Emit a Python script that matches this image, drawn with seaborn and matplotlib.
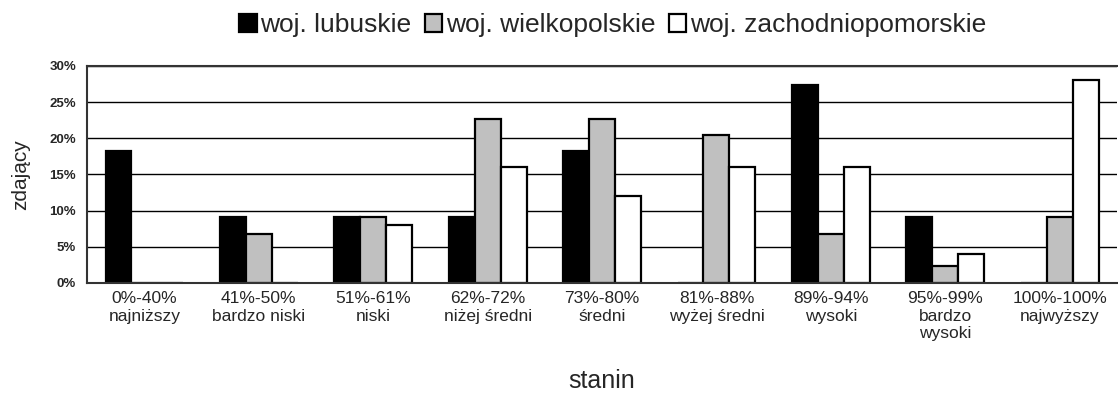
import matplotlib
matplotlib.use("Agg")
import matplotlib.pyplot as plt
import matplotlib.ticker as mticker
import seaborn as sns
import pandas as pd
import numpy as np

# kategorie staninowe
categories = ["0%-40%\nnajniższy", "41%-50%\nbardzo niski", "51%-61%\nniski",
              "62%-72%\nniżej średni", "73%-80%\nśredni", "81%-88%\nwyżej średni",
              "89%-94%\nwysoki", "95%-99%\nbardzo\nwysoki", "100%-100%\nnajwyższy"]
series = ["woj. lubuskie", "woj. wielkopolskie", "woj. zachodniopomorskie"]

lubuskie = [18.2, 9.1, 9.1, 9.1, 18.2, 0, 27.3, 9.1, 0]
wielkopolskie = [0, 6.8, 9.1, 22.7, 22.7, 20.5, 6.8, 2.3, 9.1]
zachodniopomorskie = [0, 0, 8.0, 16.0, 12.0, 16.0, 16.0, 4.0, 28.0]

colors = ["#000000", "#c0c0c0", "#ffffff"]

df = pd.DataFrame({
    "stanin": categories * 3,
    "woj": np.repeat(series, len(categories)),
    "value": lubuskie + wielkopolskie + zachodniopomorskie,
})

sns.set_style("white")
plt.rcParams['font.family'] = ['Liberation Sans', 'DejaVu Sans']

fig = plt.figure(figsize=(11.18, 4.07), dpi=100)
ax = fig.add_axes([0.078, 0.305, 0.921, 0.533])

sns.barplot(data=df, x="stanin", y="value", hue="woj", palette=colors,
            width=0.68, edgecolor="black", linewidth=1.6, ax=ax, legend=True)

ax.set_ylim(0, 30)
ax.set_xlim(-0.5, len(categories) - 0.5)
ax.yaxis.set_major_locator(mticker.MultipleLocator(5))
ax.yaxis.set_major_formatter(mticker.FuncFormatter(lambda v, p: f"{v:.0f}%"))
ax.grid(axis="y", color="black", linewidth=1.0)
ax.set_axisbelow(True)
for lbl in ax.get_yticklabels():
    lbl.set_fontweight("bold")
    lbl.set_fontsize(9.5)
ax.tick_params(axis="y", length=0, pad=8)

ax.tick_params(axis="x", which="major", length=0, labelsize=12.5, pad=6)
ax.set_xticks(np.arange(-0.5, len(categories), 1), minor=True)
ax.tick_params(axis="x", which="minor", length=4, width=1, color="#444444", direction="out")

for s in ["left", "bottom", "top"]:
    ax.spines[s].set_visible(True)
    ax.spines[s].set_color("#333333")
    ax.spines[s].set_linewidth(1.5)
ax.spines["right"].set_visible(False)

ax.set_xlabel("stanin", fontsize=18, labelpad=20)
ax.set_ylabel("zdający", fontsize=15, labelpad=14)

handles, labels = ax.get_legend_handles_labels()
ax.get_legend().remove()
fig.legend(handles, labels, loc="center", bbox_to_anchor=(0.548, 0.938), ncol=3,
           frameon=False, fontsize=19, handlelength=0.65, handleheight=0.7,
           handletextpad=0.15, columnspacing=0.5)

fig.savefig("out.png", dpi=100)
